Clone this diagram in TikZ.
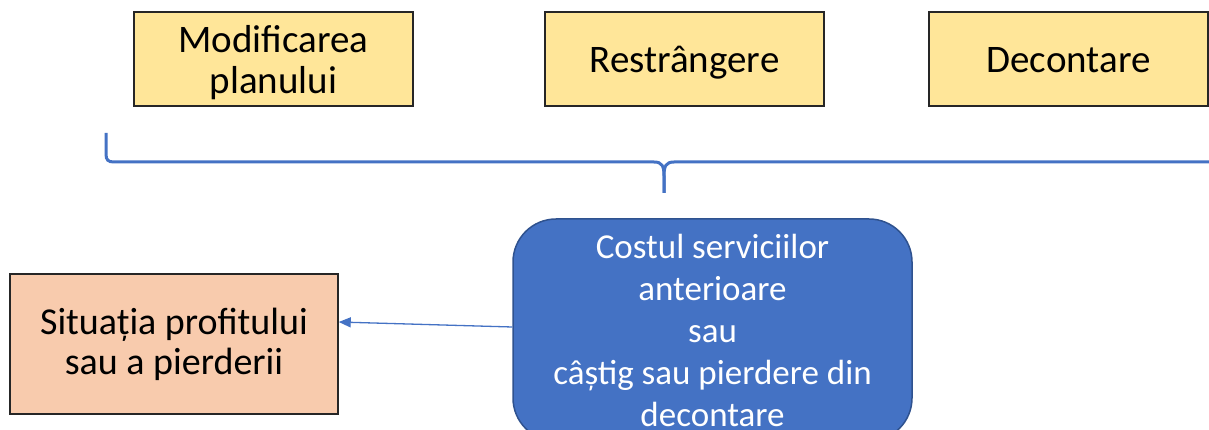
\documentclass[tikz,border=0pt]{standalone}
\usepackage{fontspec}
\setmainfont{Carlito}
\usetikzlibrary{arrows.meta}
\definecolor{boxyellow}{HTML}{FFE699}
\definecolor{boxorange}{HTML}{F8CBAD}
\definecolor{boxblue}{HTML}{4472C4}
\definecolor{blueborder}{HTML}{2F528F}
\definecolor{darkline}{HTML}{262626}
\tikzset{
  topbox/.style={draw=darkline, line width=1.5pt, fill=boxyellow, minimum width=279pt, minimum height=94pt, inner sep=0pt, align=center, font=\fontsize{39}{41}\selectfont},
  oneline/.style={text height=36pt, text depth=8pt},
  resultbox/.style={draw=darkline, line width=1.5pt, fill=boxorange, minimum width=328pt, minimum height=140pt, inner sep=0pt, align=center, font=\fontsize{38}{40}\selectfont},
  costbox/.style={draw=blueborder, line width=1.5pt, fill=boxblue, rounded corners=43pt, minimum width=399pt, minimum height=222pt, inner sep=0pt, align=center, text=white, font=\fontsize{35}{42}\selectfont},
  bracestyle/.style={draw=boxblue, line width=3pt},
  arrowstyle/.style={draw=boxblue, line width=1.3pt, -{Triangle[length=12pt,width=10pt]}}
}
\begin{document}
\begin{tikzpicture}[x=1pt,y=-1pt]
\useasboundingbox (0,0) rectangle (1209,430);
\clip (0,0) rectangle (1209,430);
\node[topbox] (mod) at (273.5,59) {\rule{0pt}{35pt}Modificarea\\planului};
\node[topbox, oneline] (res) at (684.5,59) {Restrângere};
\node[topbox, oneline] (dec) at (1068.5,59) {Decontare};
\node[resultbox] (sit) at (174,344) {Situația profitului\\sau a pierderii};
\node[costbox] (cost) at (712.5,330) {Costul serviciilor\\anterioare\\sau\\câștig sau pierdere din\\decontare};
\coordinate (bl) at (106,133);
\coordinate (tip) at (664,193);
\coordinate (br) at (1222,133);
\draw[bracestyle] (bl) -- (106,154) .. controls (106,160) and (108,162) .. (114,162)
  -- (654,162) .. controls (662,162) and (664,166) .. (664,176) -- (tip);
\draw[bracestyle] (tip) -- (664,176) .. controls (664,166) and (666,162) .. (674,162)
  -- (1214,162) .. controls (1220,162) and (1222,160) .. (1222,154) -- (br);
\draw[arrowstyle] ([yshift=3pt]cost.west) -- ([yshift=22pt]sit.east);
\end{tikzpicture}
\end{document}
